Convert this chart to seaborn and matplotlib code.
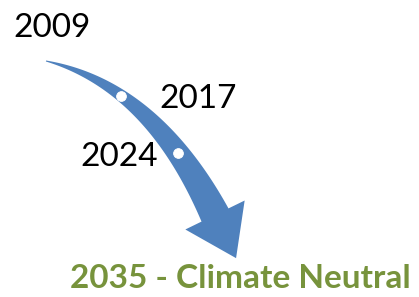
import numpy as np
import pandas as pd
import matplotlib
matplotlib.use("Agg")
import matplotlib.pyplot as plt
import seaborn as sns

# Content
milestone_years = ["2009", "2017", "2024"]
goal_label = "2035 - Climate Neutral"
marker_t = [0.385, 0.73]   # positions of the white milestone dots along the arrow

sns.set_theme(style="white")
plt.rcParams['font.family'] = ['Lato', 'DejaVu Sans']

fig = plt.figure(figsize=(4.19, 2.97), dpi=100)
ax = fig.add_axes([0, 0, 1, 1])

blue = "#4F81BD"
green = "#77933C"

# curved arrow centerline (quadratic Bezier)
P0 = np.array([46.0, 61.0])
P1 = np.array([152.0, 86.0])
P2 = np.array([215.0, 215.0])

def bez(t):
    t = np.asarray(t)[..., None]
    return (1 - t) ** 2 * P0 + 2 * t * (1 - t) * P1 + t ** 2 * P2

def dbez(t):
    t = np.asarray(t)[..., None]
    return 2 * (1 - t) * (P1 - P0) + 2 * t * (P2 - P1)

t = np.linspace(0, 1, 200)
c = bez(t)
d = dbez(t)
d = d / np.linalg.norm(d, axis=1)[:, None]
n = np.stack([d[:, 1], -d[:, 0]], axis=1)
w = 1.0 + 29.0 * t
upper = c + n * (w[:, None] / 2)
lower = c - n * (w[:, None] / 2)

de = d[-1]
ne = n[-1]
C = c[-1]
head_half = 33.0
head_len = 48.0
r1 = C + ne * head_half
r2 = C - ne * head_half
tip = C + de * head_len

poly = np.vstack([upper, [r1, tip, r2], lower[::-1]])
ax.fill(poly[:, 0], poly[:, 1], color=blue, lw=0, zorder=2)

dots = bez(np.array(marker_t))
dot_df = pd.DataFrame({"x": dots[:, 0], "y": dots[:, 1]})
sns.scatterplot(data=dot_df, x="x", y="y", ax=ax, color="white", s=50,
                edgecolor="white", zorder=3, legend=False)
ax.set_xlim(0, 419)
ax.set_ylim(297, 0)
ax.axis("off")

fs = 24
ax.text(13, 37, milestone_years[0], fontsize=fs, color="black", va="baseline", ha="left")
ax.text(159, 108, milestone_years[1], fontsize=fs, color="black", va="baseline", ha="left")
ax.text(80, 166, milestone_years[2], fontsize=fs, color="black", va="baseline", ha="left")
ax.text(70, 288, goal_label, fontsize=24, color=green, fontweight="bold",
        va="baseline", ha="left")

fig.savefig("out.png", dpi=100, facecolor="white")
